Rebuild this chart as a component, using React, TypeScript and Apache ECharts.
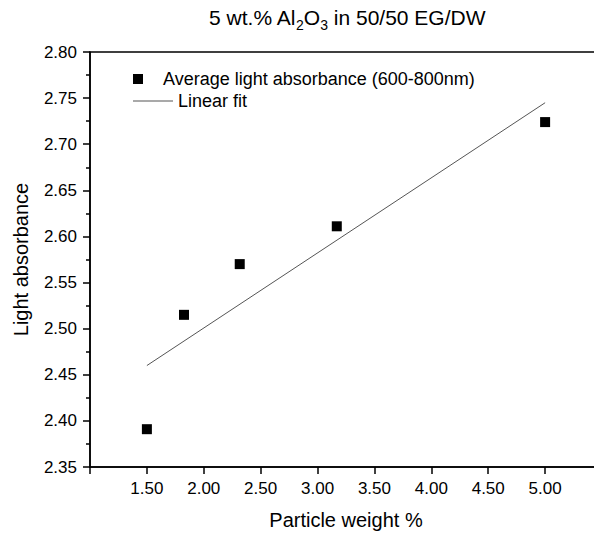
import React, { useEffect, useRef } from "react";
import * as echarts from "echarts";

const title = "5 wt.% Al{sub|2}O{sub|3} in 50/50 EG/DW";
const xName = "Particle weight %";
const yName = "Light absorbance";
const scatterName = "Average light absorbance (600-800nm)";
const fitName = "Linear fit";

const weights = [1.5, 1.826, 2.316, 3.169, 5.0];
const absorbance = [2.391, 2.515, 2.57, 2.611, 2.724];

const fitX = [1.5, 5.0];
const fitY = [2.46, 2.745];

const FONT = "'Liberation Sans', Arial, sans-serif";

export default function App() {
  const ref = useRef<HTMLDivElement>(null);
  useEffect(() => {
    if (!ref.current) return;
    const chart = echarts.init(ref.current, null, { renderer: "svg" });
    const option = {
      animation: false,
      backgroundColor: "#fff",
      title: {
        text: title,
        left: 342,
        textAlign: "center",
        top: 1,
        textStyle: {
          fontFamily: FONT,
          fontSize: 21,
          fontWeight: "normal",
          color: "#000",
          lineHeight: 23,
          rich: {
            sub: {
              fontFamily: FONT,
              fontSize: 14,
              lineHeight: 14,
              color: "#000",
              verticalAlign: "top",
              padding: [12, 0, 0, 0],
            },
          },
        },
      },
      legend: [
        {
          data: [
            {
              name: scatterName,
              icon: "path://M15,0 L25,0 L25,10 L15,10 Z",
            },
          ],
          left: 133,
          top: 70,
          itemWidth: 40,
          itemHeight: 10,
          itemGap: 0,
          padding: 0,
          textStyle: { fontFamily: FONT, fontSize: 18, color: "#000" },
        },
        {
          data: [
            {
              name: fitName,
              icon: "path://M0,4.5 L40,4.5 L40,5.5 L0,5.5 Z",
            },
          ],
          left: 133,
          top: 92,
          itemWidth: 40,
          itemHeight: 10,
          padding: 0,
          textStyle: { fontFamily: FONT, fontSize: 18, color: "#000" },
        },
      ],
      grid: {
        left: 90,
        top: 52,
        right: -8,
        bottom: 69,
        outerBoundsMode: "none",
        containLabel: false,
        show: true,
        borderColor: "#000",
        borderWidth: 1.5,
        backgroundColor: "transparent",
      },
      xAxis: {
        type: "value",
        min: 1.0,
        max: 5.5,
        interval: 0.5,
        name: xName,
        nameLocation: "middle",
        nameGap: 43,
        nameTextStyle: { fontFamily: FONT, fontSize: 20, color: "#000" },
        axisLine: { show: true, onZero: false, lineStyle: { color: "#000", width: 1.5 } },
        axisTick: { show: true, inside: false, length: 7, lineStyle: { color: "#000", width: 1.5 } },
        axisLabel: {
          fontFamily: FONT,
          fontSize: 17,
          color: "#000",
          margin: 13,
          formatter: (v: number) => (v < 1.25 || v > 5.25 ? "" : v.toFixed(2)),
        },
        splitLine: { show: false },
      },
      yAxis: {
        type: "value",
        min: 2.35,
        max: 2.8,
        interval: 0.05,
        name: yName,
        nameLocation: "middle",
        nameGap: 59,
        nameRotate: 90,
        nameTextStyle: { fontFamily: FONT, fontSize: 20, color: "#000" },
        axisLine: { show: true, onZero: false, lineStyle: { color: "#000", width: 1.5 } },
        axisTick: { show: true, inside: false, length: 7, lineStyle: { color: "#000", width: 1.5 } },
        minorTick: { show: true, splitNumber: 2, length: 4, lineStyle: { color: "#000", width: 1.5 } },
        axisLabel: {
          fontFamily: FONT,
          fontSize: 17,
          color: "#000",
          margin: 13,
          formatter: (v: number) => v.toFixed(2),
        },
        splitLine: { show: false },
      },
      series: [
        {
          name: scatterName,
          type: "scatter",
          symbol: "rect",
          symbolSize: 10,
          itemStyle: { color: "#000", opacity: 1 },
          data: weights.map((w, i) => [w, absorbance[i]]),
        },
        {
          name: fitName,
          type: "line",
          symbol: "none",
          lineStyle: { color: "#555", width: 1 },
          itemStyle: { color: "#555" },
          data: fitX.map((x, i) => [x, fitY[i]]),
        },
      ],
    };
    chart.setOption(option as any);
    return () => chart.dispose();
  }, []);
  return (
    <div
      ref={ref}
      style={{ position: "fixed", left: 0, top: 0, width: 594, height: 536 }}
    />
  );
}
